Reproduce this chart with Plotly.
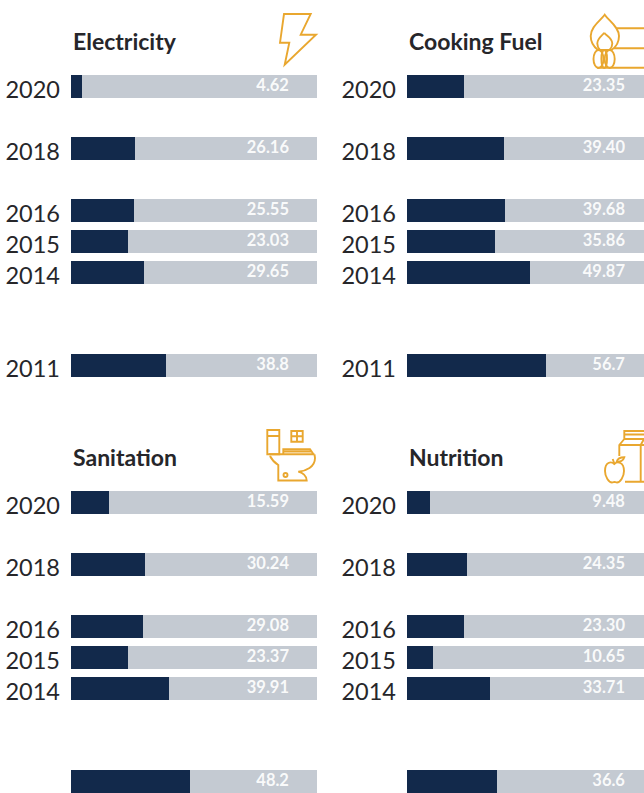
import re
import plotly.graph_objects as go

W, H = 644, 793

years = [2020, 2018, 2016, 2015, 2014, 2011]
electricity = [4.62, 26.16, 25.55, 23.03, 29.65, 38.8]
cooking_fuel = [23.35, 39.40, 39.68, 35.86, 49.87, 56.7]
sanitation = [15.59, 30.24, 29.08, 23.37, 39.91, 48.2]
nutrition = [9.48, 24.35, 23.30, 10.65, 33.71, 36.6]
electricity_labels = ["4.62", "26.16", "25.55", "23.03", "29.65", "38.8"]
cooking_fuel_labels = ["23.35", "39.40", "39.68", "35.86", "49.87", "56.7"]
sanitation_labels = ["15.59", "30.24", "29.08", "23.37", "39.91", "48.2"]
nutrition_labels = ["9.48", "24.35", "23.30", "10.65", "33.71", "36.6"]

NAVY = "#12294B"
GREY = "#C4CAD2"
AMBER = "#E9A72F"
INK = "#26262A"
FONT = "Lato"
PX_PER_YEAR = 31.0
PX_PER_UNIT = 2.46
LABEL_END = 88.6

panels = [
    ("Electricity", electricity, electricity_labels, 71, 55.5, 396),
    ("Cooking Fuel", cooking_fuel, cooking_fuel_labels, 407, 55.5, 396),
    ("Sanitation", sanitation, sanitation_labels, 71, 471.5, 793),
    ("Nutrition", nutrition, nutrition_labels, 407, 471.5, 793),
]

fig = go.Figure()
annotations = []
layout_axes = {}
for i, (title, vals, labs, left, top, bottom) in enumerate(panels):
    n = "" if i == 0 else str(i + 1)
    right = min(left + 246, W)
    xmax = (right - left) / PX_PER_UNIT
    ymin = 2021 - (bottom - top) / PX_PER_YEAR
    fig.add_trace(go.Bar(y=years, x=vals, orientation="h", width=0.74, marker=dict(color=NAVY, line_width=0),
                         xaxis="x" + n, yaxis="y" + n, showlegend=False, hoverinfo="skip"))
    fig.add_trace(go.Bar(y=years, x=[100 - v for v in vals], orientation="h", width=0.74,
                         marker=dict(color=GREY, line_width=0),
                         xaxis="x" + n, yaxis="y" + n, showlegend=False, hoverinfo="skip"))
    fig.add_trace(go.Scatter(y=years, x=[LABEL_END] * len(years), mode="text", text=labs,
                             textposition="middle left",
                             textfont=dict(family=FONT, size=16.5, color="rgba(255,255,255,0.92)", weight=700),
                             xaxis="x" + n, yaxis="y" + n, showlegend=False, hoverinfo="skip"))
    layout_axes["xaxis" + n] = dict(domain=[left / W, right / W], range=[0, xmax], visible=False, fixedrange=True,
                                    anchor="y" + n)
    layout_axes["yaxis" + n] = dict(domain=[1 - bottom / H, 1 - top / H], range=[ymin, 2021], anchor="x" + n,
                                    tickmode="array", tickvals=years, ticktext=[str(y) for y in years],
                                    showgrid=False, zeroline=False, showline=False, ticks="",
                                    ticklabelstandoff=10, ticklabelshift=3,
                                    tickfont=dict(family=FONT, size=23.5, color=INK), fixedrange=True)
    annotations.append(dict(text="<b>%s</b>" % title, x=left / W, y=1 - (top - 14.5) / H, xref="paper", yref="paper",
                            xanchor="left", yanchor="middle", showarrow=False,
                            font=dict(family=FONT, size=23, color=INK)))
    
# decorative icons, drawn in page pixels
def px_path(d):
    toks = re.findall(r"[MLCQZ]|-?\d+\.?\d*", d)
    out, is_x = [], True
    for t in toks:
        if t.isalpha():
            out.append(t)
            is_x = True
        else:
            v = float(t)
            out.append("%.5f" % (v / W if is_x else 1 - v / H))
            is_x = not is_x
    return " ".join(out)

def oval(cx, cy, rx, ry):
    k = 0.55
    return (f"M{cx-rx} {cy} C{cx-rx} {cy-k*ry} {cx-k*rx} {cy-ry} {cx} {cy-ry} "
            f"C{cx+k*rx} {cy-ry} {cx+rx} {cy-k*ry} {cx+rx} {cy} "
            f"C{cx+rx} {cy+k*ry} {cx+k*rx} {cy+ry} {cx} {cy+ry} "
            f"C{cx-k*rx} {cy+ry} {cx-rx} {cy+k*ry} {cx-rx} {cy} Z")

icons = [
    # bolt
    "M284 14 L310.7 14 L300.7 34.7 L316 34.7 L284.7 64.7 L289.3 42.7 L280 42.7 Z",
    # flame and cylinders
    "M604.7 14.7 C600 21 590.7 27 590.7 36 C590.7 43 594 47 598 50 L611.5 50 C616 47 619 43 619 36 C619 27 609 21 604.7 14.7 Z",
    "M604.2 32.7 C602 36 597.3 38 597.3 43.5 C597.3 46 598 48 600 50 M604.2 32.7 C606.5 36 612.3 38 612.3 43.5 C612.3 46 611.5 48 609.5 50",
    oval(598.5, 59, 5, 9), oval(609.7, 59, 5, 9), oval(604.2, 59, 2.8, 9),
    "M617 28.3 L644 28.3 M614 48.3 L644 48.3 M597 67.8 L644 67.8",
    # toilet
    "M267.3 430 L279.3 430 L279.3 454.3 L267.3 454.3 Z M267.3 436 L279.3 436",
    "M291.3 431 L302.7 431 L302.7 441.7 L291.3 441.7 Z M297 431 L297 441.7 M291.3 436.3 L302.7 436.3",
    "M283.3 454.3 L283.3 449.3 L310 449.3 L313.5 454.3 M269 454.3 L314.5 454.3 M283.3 451.5 L311 451.5",
    "M270 456 C272 460 275 463 278.3 465 L278.3 480.5 L306.7 480.5 C306.5 476 303 473 298.3 471.7 C306 471 315 467 315 458 L314.5 454.3",
    oval(285.5, 475, 2, 2),
    # carton and apple
    "M624.3 439 L624.3 431 L644 431 M624.3 434.5 L644 434.5 M624.3 439 L644 439 M624.3 439 L619.3 445 L619.3 456 M619.3 445 L644 445 M640.7 445 L640.7 481.7 M625 481.7 L644 481.7 M640.7 445 L644 439",
    "M614.3 464 C611 461 605 462 605 471 C605 477 609 482.5 612 482.5 C613 482.5 614 482 614.5 482 C615 482 616 482.5 617 482.5 C620 482.5 624 477 624 471 C624 462 617.5 461 614.3 464 Z",
    "M614.3 463.5 L612.7 459 M616.7 461.7 C617.5 458.5 621 457.3 624.3 457.3 C623.5 460.5 620 462 616.7 461.7 Z",
]
shapes = [dict(type="path", xref="paper", yref="paper", path=px_path(p), line=dict(color=AMBER, width=1.9),
               layer="above") for p in icons]

fig.update_layout(width=W, height=H, margin=dict(l=0, r=0, t=0, b=0), paper_bgcolor="white", plot_bgcolor="white",
                  barmode="stack", annotations=annotations, shapes=shapes, **layout_axes)
fig.write_html("out.html", config=dict(displayModeBar=False),
               post_script="document.body.style.margin='0';document.documentElement.style.overflow='hidden';")
